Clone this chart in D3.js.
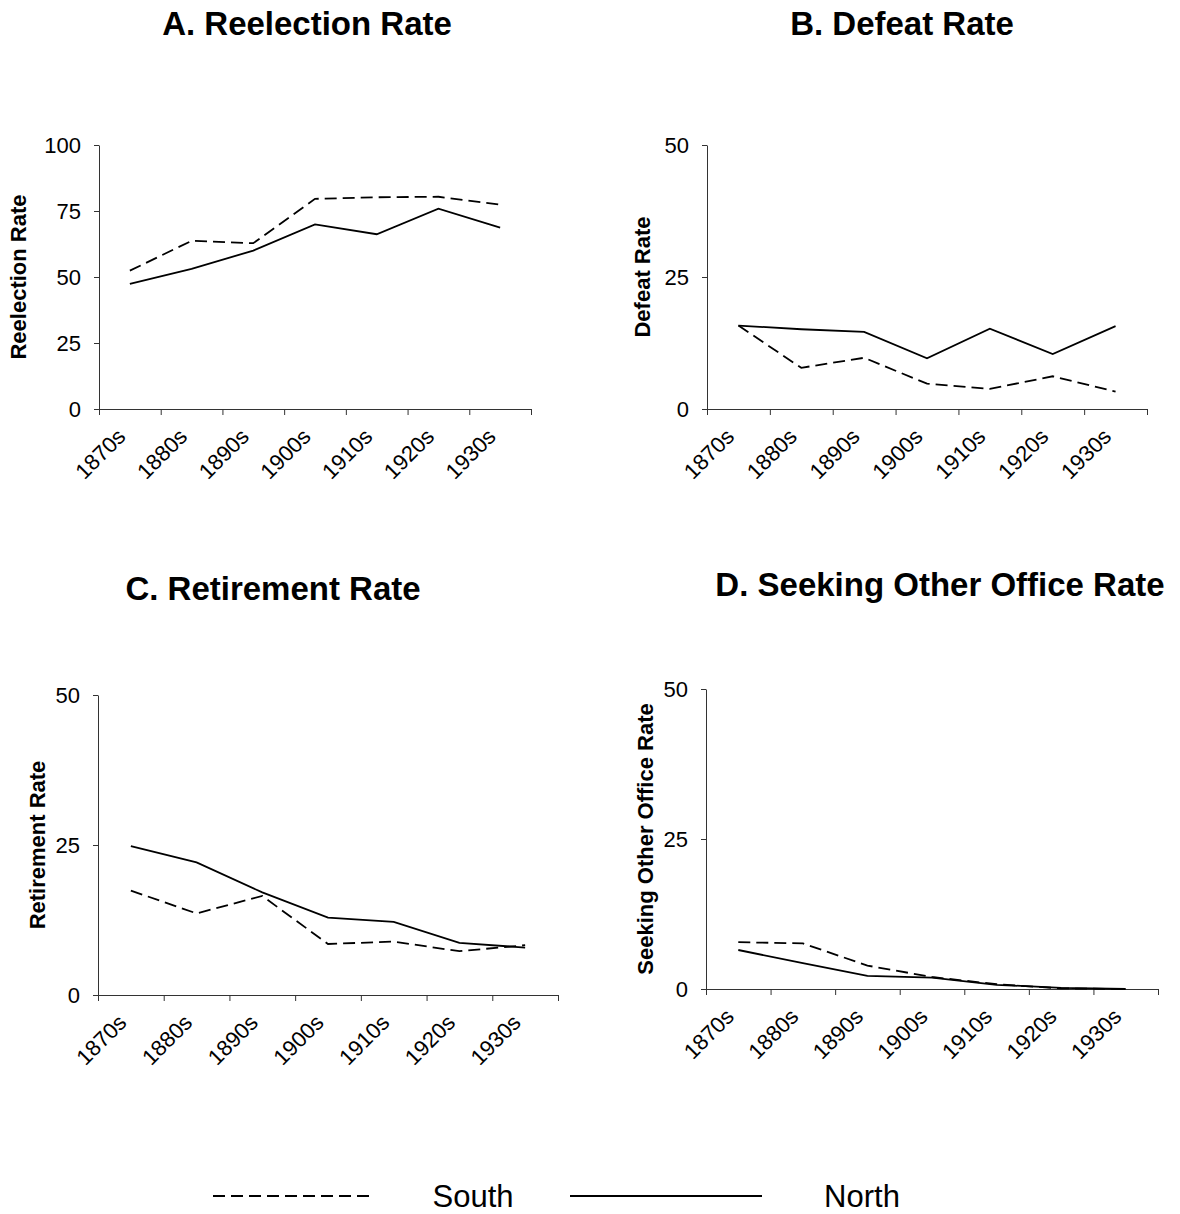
<!DOCTYPE html>
<html>
<head>
<meta charset="utf-8">
<script src="https://cdn.jsdelivr.net/npm/d3@7"></script>
<style>
  html, body { margin: 0; padding: 0; background: #fff; }
  svg { display: block; font-family: Arial, "Liberation Sans", sans-serif; }
</style>
</head>
<body>
<svg id="chart" width="1180" height="1214"></svg>
<script>
// Decades on the category axis
const decades = ["1870s", "1880s", "1890s", "1900s", "1910s", "1920s", "1930s"];

// A. Reelection rate (%)
const reelectionSouth = [52.4, 63.7, 62.8, 79.6, 80.2, 80.4, 77.4];
const reelectionNorth = [47.4, 53.1, 60.0, 69.9, 66.2, 75.9, 68.7];

// B. Defeat rate (%)
const defeatSouth = [15.8, 7.8, 9.7, 4.8, 3.8, 6.2, 3.3];
const defeatNorth = [15.8, 15.1, 14.6, 9.6, 15.2, 10.4, 15.7];

// C. Retirement rate (%)
const retirementSouth = [17.4, 13.6, 16.5, 8.5, 8.9, 7.3, 8.3];
const retirementNorth = [24.8, 22.1, 17.1, 12.9, 12.2, 8.7, 7.9];

// D. Seeking other office rate (%)
const otherOfficeSouth = [7.8, 7.6, 3.9, 2.0, 0.8, 0.1, 0.0];
const otherOfficeNorth = [6.5, 4.3, 2.2, 1.9, 0.7, 0.2, 0.0];

// Value-axis ticks
const ticksReelection = [0, 25, 50, 75, 100];
const ticksRates = [0, 25, 50];

// Series labels
const seriesNames = ["South", "North"];

const svg = d3.select("#chart");
const DASH = "12,6";

const panels = [
  { title: "A. Reelection Rate", axisTitle: "Reelection Rate", south: reelectionSouth, north: reelectionNorth,
    ticks: ticksReelection, x0: 99, x1: 531, yTop: 145, yBot: 409, titleX: 307, titleY: 35, axisTitleX: 26 },
  { title: "B. Defeat Rate", axisTitle: "Defeat Rate", south: defeatSouth, north: defeatNorth,
    ticks: ticksRates, x0: 707, x1: 1147, yTop: 145, yBot: 409, titleX: 902, titleY: 35, axisTitleX: 650 },
  { title: "C. Retirement Rate", axisTitle: "Retirement Rate", south: retirementSouth, north: retirementNorth,
    ticks: ticksRates, x0: 98, x1: 558, yTop: 695, yBot: 995, titleX: 273, titleY: 600, axisTitleX: 45 },
  { title: "D. Seeking Other Office Rate", axisTitle: "Seeking Other Office Rate", south: otherOfficeSouth, north: otherOfficeNorth,
    ticks: ticksRates, x0: 706, x1: 1158, yTop: 689, yBot: 989, titleX: 940, titleY: 596, axisTitleX: 653 }
];

panels.forEach(p => {
  const g = svg.append("g");
  const maxV = d3.max(p.ticks);

  const band = d3.scaleBand().domain(decades).range([p.x0, p.x1]).paddingInner(0).paddingOuter(0);
  const xCenter = d => band(d) + band.bandwidth() / 2;
  const tickScale = d3.scaleLinear().domain([0, decades.length]).range([p.x0, p.x1]);
  const y = d3.scaleLinear().domain([0, maxV]).range([p.yBot, p.yTop]);

  // Panel title
  g.append("text")
    .attr("x", p.titleX).attr("y", p.titleY)
    .attr("text-anchor", "middle")
    .attr("font-size", 33).attr("font-weight", "bold")
    .text(p.title);

  // Value axis
  const yAxis = g.append("g")
    .attr("transform", `translate(${p.x0},0)`)
    .call(d3.axisLeft(y).tickValues(p.ticks).tickSize(5).tickSizeOuter(0).tickPadding(13).tickFormat(d3.format("d")));
  yAxis.select(".domain").attr("stroke", "#333");
  yAxis.selectAll(".tick line").attr("stroke", "#333");
  yAxis.selectAll(".tick text").attr("font-size", 22).attr("fill", "#000")
    .attr("font-family", "Arial, 'Liberation Sans', sans-serif");

  // Category axis: tick marks sit between decades
  const xAxis = g.append("g")
    .attr("transform", `translate(0,${p.yBot})`)
    .call(d3.axisBottom(tickScale).tickValues(d3.range(decades.length + 1)).tickSize(6).tickSizeOuter(0).tickFormat(""));
  xAxis.select(".domain").attr("stroke", "#333");
  xAxis.selectAll(".tick line").attr("stroke", "#333");

  // Rotated decade labels
  g.append("g").selectAll("text")
    .data(decades)
    .join("text")
    .attr("transform", d => `translate(${xCenter(d) - 3},${p.yBot + 29}) rotate(-45)`)
    .attr("text-anchor", "end")
    .attr("font-size", 22)
    .text(d => d);

  // Axis title
  g.append("text")
    .attr("transform", `translate(${p.axisTitleX},${(p.yTop + p.yBot) / 2}) rotate(-90)`)
    .attr("text-anchor", "middle")
    .attr("font-size", 22).attr("font-weight", "bold")
    .text(p.axisTitle);

  const line = d3.line().x((v, i) => xCenter(decades[i])).y(v => y(v));

  g.append("path").datum(p.south)
    .attr("d", line).attr("fill", "none").attr("stroke", "#000")
    .attr("stroke-width", 1.8).attr("stroke-dasharray", DASH);

  g.append("path").datum(p.north)
    .attr("d", line).attr("fill", "none").attr("stroke", "#000")
    .attr("stroke-width", 1.8);
});

// Legend
const legend = svg.append("g");
const legendItems = [
  { name: seriesNames[0], dash: DASH, lx0: 213, lx1: 372, tx: 473 },
  { name: seriesNames[1], dash: null, lx0: 570, lx1: 762, tx: 862 }
];
legendItems.forEach(it => {
  legend.append("line")
    .attr("x1", it.lx0).attr("x2", it.lx1).attr("y1", 1196).attr("y2", 1196)
    .attr("stroke", "#000").attr("stroke-width", 1.8)
    .attr("stroke-dasharray", it.dash);
  legend.append("text")
    .attr("x", it.tx).attr("y", 1207)
    .attr("text-anchor", "middle")
    .attr("font-size", 31)
    .text(it.name);
});
</script>
</body>
</html>
